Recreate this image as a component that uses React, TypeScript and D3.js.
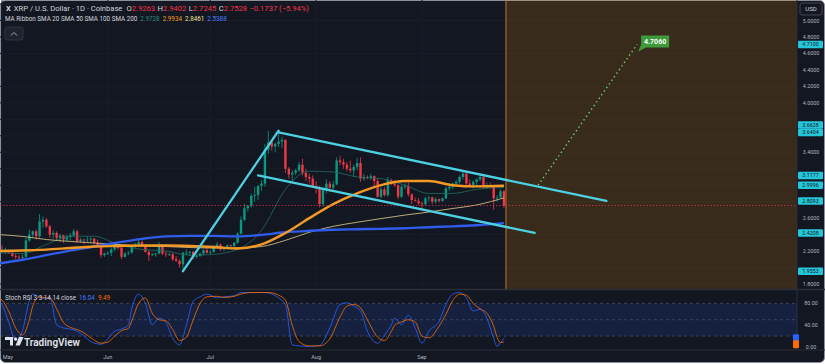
import React from "react";
import * as d3 from "d3";

const W = 825;
const H = 364;

// daily candles, first one on 2025-04-30 : [open, high, low, close]
const firstDay = "2025-04-30";
const ohlc: [number, number, number, number][] = [
  [2.19, 2.24, 2.14, 2.21],
  // May
  [2.21, 2.27, 2.18, 2.2], [2.2, 2.24, 2.17, 2.21], [2.21, 2.22, 2.17, 2.18], [2.18, 2.19, 2.13, 2.14],
  [2.14, 2.17, 2.1, 2.13], [2.13, 2.15, 2.08, 2.12], [2.12, 2.16, 2.09, 2.13], [2.13, 2.36, 2.12, 2.33],
  [2.33, 2.46, 2.31, 2.4], [2.4, 2.45, 2.36, 2.44], [2.44, 2.46, 2.34, 2.38], [2.38, 2.65, 2.36, 2.56],
  [2.56, 2.62, 2.48, 2.58], [2.58, 2.6, 2.48, 2.5], [2.5, 2.52, 2.36, 2.4], [2.4, 2.45, 2.35, 2.42],
  [2.42, 2.44, 2.33, 2.36], [2.36, 2.41, 2.31, 2.39], [2.39, 2.4, 2.3, 2.34], [2.34, 2.4, 2.32, 2.37],
  [2.37, 2.42, 2.33, 2.39], [2.39, 2.47, 2.38, 2.44], [2.44, 2.46, 2.3, 2.32], [2.32, 2.36, 2.3, 2.34],
  [2.34, 2.35, 2.28, 2.33], [2.33, 2.38, 2.31, 2.34], [2.34, 2.37, 2.3, 2.35], [2.35, 2.36, 2.28, 2.3],
  [2.3, 2.34, 2.25, 2.27], [2.27, 2.28, 2.12, 2.15], [2.15, 2.18, 2.13, 2.17],
  // June
  [2.17, 2.2, 2.15, 2.18], [2.18, 2.24, 2.14, 2.22], [2.22, 2.3, 2.2, 2.25], [2.25, 2.28, 2.22, 2.24],
  [2.24, 2.25, 2.1, 2.13], [2.13, 2.19, 2.12, 2.17], [2.17, 2.2, 2.15, 2.18], [2.18, 2.28, 2.17, 2.26],
  [2.26, 2.3, 2.24, 2.28], [2.28, 2.34, 2.27, 2.31], [2.31, 2.33, 2.25, 2.26], [2.26, 2.28, 2.18, 2.19],
  [2.19, 2.21, 2.08, 2.15], [2.15, 2.18, 2.14, 2.16], [2.16, 2.18, 2.13, 2.17], [2.17, 2.31, 2.16, 2.26],
  [2.26, 2.28, 2.15, 2.17], [2.17, 2.2, 2.13, 2.16], [2.16, 2.18, 2.14, 2.16], [2.16, 2.18, 2.08, 2.1],
  [2.1, 2.14, 2.07, 2.08], [2.08, 2.1, 2.0, 2.04], [2.04, 2.19, 1.95, 2.18], [2.18, 2.22, 2.15, 2.18],
  [2.18, 2.2, 2.14, 2.19], [2.19, 2.2, 2.1, 2.13], [2.13, 2.16, 2.11, 2.14], [2.14, 2.18, 2.13, 2.17],
  [2.17, 2.22, 2.15, 2.21], [2.21, 2.24, 2.17, 2.18],
  // July
  [2.18, 2.21, 2.16, 2.19], [2.19, 2.27, 2.18, 2.25], [2.25, 2.31, 2.24, 2.28], [2.28, 2.29, 2.2, 2.22],
  [2.22, 2.24, 2.2, 2.23], [2.23, 2.28, 2.22, 2.27], [2.27, 2.28, 2.24, 2.26], [2.26, 2.31, 2.25, 2.3],
  [2.3, 2.43, 2.29, 2.41], [2.41, 2.62, 2.4, 2.58], [2.58, 2.77, 2.56, 2.72], [2.72, 2.76, 2.68, 2.75],
  [2.75, 2.9, 2.73, 2.87], [2.87, 2.98, 2.8, 2.88], [2.88, 3.0, 2.82, 2.99], [2.99, 3.06, 2.93, 3.02],
  [3.02, 3.5, 2.98, 3.43], [3.43, 3.66, 3.38, 3.52], [3.52, 3.55, 3.42, 3.47], [3.47, 3.52, 3.4, 3.5],
  [3.5, 3.63, 3.46, 3.53], [3.53, 3.59, 3.45, 3.55], [3.55, 3.56, 3.15, 3.2], [3.2, 3.22, 3.08, 3.13],
  [3.13, 3.18, 3.05, 3.15], [3.15, 3.2, 3.12, 3.18], [3.18, 3.28, 3.16, 3.25], [3.25, 3.32, 3.12, 3.15],
  [3.15, 3.2, 3.05, 3.1], [3.1, 3.14, 3.02, 3.08], [3.08, 3.12, 2.97, 2.99],
  // August
  [2.99, 3.05, 2.9, 2.97], [2.97, 2.99, 2.73, 2.77], [2.77, 2.98, 2.74, 2.94], [2.94, 3.07, 2.9, 3.02],
  [3.02, 3.05, 2.92, 2.97], [2.97, 3.05, 2.93, 3.01], [3.01, 3.34, 3.0, 3.3], [3.3, 3.36, 3.24, 3.28],
  [3.28, 3.32, 3.2, 3.25], [3.25, 3.28, 3.17, 3.2], [3.2, 3.3, 3.15, 3.18], [3.18, 3.25, 3.1, 3.22],
  [3.22, 3.33, 3.18, 3.27], [3.27, 3.34, 3.04, 3.08], [3.08, 3.14, 3.05, 3.1], [3.1, 3.12, 3.07, 3.09],
  [3.09, 3.14, 3.06, 3.11], [3.11, 3.12, 2.98, 3.05], [3.05, 3.08, 2.85, 2.86], [2.86, 2.98, 2.84, 2.95],
  [2.95, 2.98, 2.86, 2.88], [2.88, 3.1, 2.86, 3.06], [3.06, 3.08, 3.0, 3.02], [3.02, 3.06, 2.98, 3.0],
  [3.0, 3.01, 2.83, 2.86], [2.86, 3.0, 2.84, 2.98], [2.98, 3.02, 2.95, 2.99], [2.99, 3.03, 2.86, 2.89],
  [2.89, 2.9, 2.77, 2.82], [2.82, 2.85, 2.8, 2.81], [2.81, 2.84, 2.76, 2.78],
  // September
  [2.78, 2.8, 2.7, 2.77], [2.77, 2.86, 2.75, 2.84], [2.84, 2.87, 2.8, 2.85], [2.85, 2.86, 2.77, 2.8],
  [2.8, 2.85, 2.78, 2.83], [2.83, 2.84, 2.79, 2.81], [2.81, 2.85, 2.8, 2.84], [2.84, 2.98, 2.83, 2.96],
  [2.96, 3.02, 2.93, 2.98], [2.98, 3.03, 2.95, 3.02], [3.02, 3.06, 2.98, 3.04], [3.04, 3.12, 3.02, 3.1],
  [3.1, 3.18, 3.07, 3.14], [3.14, 3.16, 3.0, 3.02], [3.02, 3.07, 2.97, 3.0], [3.0, 3.06, 2.96, 3.04],
  [3.04, 3.08, 2.98, 3.07], [3.07, 3.14, 3.05, 3.1], [3.1, 3.11, 2.96, 2.98], [2.98, 3.03, 2.96, 3.0],
  [3.0, 3.03, 2.97, 2.99], [2.99, 3.0, 2.7, 2.84], [2.84, 2.88, 2.8, 2.85], [2.85, 2.95, 2.84, 2.9263],
  [2.9263, 2.9402, 2.7245, 2.7528],
];

// MA ribbon, sampled weekly off the chart
const maDates = [
  "2025-04-30", "2025-05-07", "2025-05-14", "2025-05-21", "2025-05-28", "2025-06-04", "2025-06-11",
  "2025-06-18", "2025-06-25", "2025-07-02", "2025-07-09", "2025-07-16", "2025-07-23", "2025-07-30",
  "2025-08-06", "2025-08-13", "2025-08-20", "2025-08-27", "2025-09-03", "2025-09-10", "2025-09-17",
  "2025-09-25",
];
const sma20 = [2.18, 2.17, 2.28, 2.38, 2.38, 2.28, 2.22, 2.2, 2.15, 2.16, 2.22, 2.45, 2.95, 3.17, 3.16, 3.1, 3.08, 3.0, 2.9, 2.9, 2.95, 2.973];
const sma50 = [2.2, 2.206, 2.218, 2.237, 2.255, 2.262, 2.268, 2.268, 2.262, 2.25, 2.231, 2.28, 2.42, 2.6, 2.77, 2.9, 3.0, 3.05, 3.05, 3.0, 2.985, 2.993];
const sma100 = [2.4, 2.378, 2.34, 2.317, 2.298, 2.28, 2.262, 2.255, 2.243, 2.237, 2.237, 2.255, 2.33, 2.428, 2.5, 2.55, 2.594, 2.637, 2.674, 2.717, 2.76, 2.846];
const sma200 = [2.05, 2.095, 2.15, 2.206, 2.255, 2.305, 2.348, 2.378, 2.385, 2.385, 2.378, 2.397, 2.428, 2.446, 2.458, 2.465, 2.47, 2.477, 2.49, 2.5, 2.514, 2.539];
const maLegend = ["2.9728", "2.9934", "2.8461", "2.5388"];

// stoch RSI samples, index = candle number
const stochIdx = [0, 1, 3, 5, 7, 9, 10, 12, 14, 15, 17, 19, 21, 23, 25, 27, 30, 32, 34, 36, 38, 39, 41, 43, 45, 47, 49, 51, 53, 55, 57, 59, 61, 64, 66, 69, 71, 74, 77, 79, 82, 84, 86, 88, 91, 94, 97, 100, 102, 104, 106, 108, 111, 113, 115, 116, 118, 120, 122, 124, 126, 129, 131, 133, 135, 137, 139, 141, 143, 145, 146, 147, 148];
const stochK = [85, 78, 45, 12, 30, 85, 97, 92, 88, 92, 41, 35, 33, 29, 20, 10, 5, 15, 29, 33, 40, 70, 97, 80, 41, 53, 45, 16, 4, 40, 84, 92, 97, 90, 92, 94, 100, 100, 100, 99, 90, 78, 4, 2, 1, 3, 35, 78, 81, 75, 66, 29, 7, 22, 40, 53, 41, 58, 35, 7, 29, 47, 78, 97, 100, 90, 66, 69, 53, 16, 1, 8, 16.04];
const stochD = [90, 86, 65, 35, 22, 50, 75, 92, 90, 90, 70, 45, 36, 32, 26, 17, 7, 9, 20, 30, 34, 48, 80, 90, 62, 50, 48, 32, 12, 18, 50, 80, 92, 93, 91, 93, 97, 100, 100, 100, 95, 86, 40, 10, 2, 2, 15, 55, 75, 78, 72, 50, 18, 12, 28, 40, 46, 50, 46, 20, 17, 38, 60, 85, 97, 95, 80, 70, 62, 38, 18, 8, 9.49];

// drawings: [date, price] pairs
const poleLine: [string, number][] = [["2025-06-23", 1.9553], ["2025-07-21", 3.6628]];
const upperLine: [string, number][] = [["2025-07-21", 3.6404], ["2025-10-25", 2.8093]];
const lowerLine: [string, number][] = [["2025-07-15", 3.1177], ["2025-10-04", 2.4208]];
const targetLine: [string, number][] = [["2025-10-05", 2.9996], ["2025-11-03", 4.71]];
const targetText = "4.7060";
const boxStart = "2025-09-25T14:00:00Z";
const axisTags = [4.71, 3.6628, 3.6404, 3.1177, 2.9996, 2.8093, 2.4208, 1.9553];

const GREEN = "#089981";
const RED = "#f23645";
const CYAN = "#4dd0e1";
const TXT = "#b2b5be";
const BG = "#131722";

const PANE_R = 797;
const MAIN_B = 289;

export default function App() {
  const start = new Date(firstDay + "T00:00:00Z");
  const dates = ohlc.map((_, i) => d3.utcDay.offset(start, i));

  const x = d3
    .scaleUtc()
    .domain([new Date("2025-05-01T00:00:00Z"), new Date("2025-09-01T00:00:00Z")])
    .range([2, 422]);
  const y = d3.scaleLinear().domain([1.8, 5.0]).range([284, 20.5]);
  const ys = d3.scaleLinear().domain([0, 100]).range([347, 292.5]);

  const maLine = d3
    .line<number>()
    .x((_, i) => x(new Date(maDates[i] + "T00:00:00Z")))
    .y((v) => y(v))
    .curve(d3.curveMonotoneX);

  const stLine = d3
    .line<number>()
    .x((_, i) => x(dates[stochIdx[i]]))
    .y((v) => ys(v))
    .curve(d3.curveMonotoneX);

  const pt = (p: [string, number]) => [x(new Date(p[0] + "T00:00:00Z")), y(p[1])];

  const priceTicks = d3.range(18, 53, 2).map((v) => v / 10);
  const months = d3.utcMonth.range(new Date("2025-05-01T00:00:00Z"), new Date("2025-10-01T00:00:00Z"));
  const fmt = d3.format(".4f");
  const last = ohlc[ohlc.length - 1];
  const boxX = x(new Date(boxStart));

  // axis tags, pushed up when overlapping
  const tagH = 7.5;
  const tags = axisTags
    .map((v) => ({ v, yy: y(v) }))
    .sort((a, b) => b.yy - a.yy);
  for (let i = 1; i < tags.length; i++) {
    if (tags[i].yy > tags[i - 1].yy - tagH) tags[i].yy = tags[i - 1].yy - tagH;
  }
  // plain tick labels hidden behind a tag or the USD box
  const shownTicks = priceTicks.filter(
    (v) => y(v) > 19 && tags.every((t) => Math.abs(t.yy - y(v)) > tagH - 0.5)
  );

  const [tx0, ty0] = pt(targetLine[0]);
  const [tx1, ty1] = pt(targetLine[1]);

  return (
    <svg
      width={W}
      height={H}
      style={{ position: "fixed", left: 0, top: 0, display: "block", background: "#ffffff" }}
      fontFamily="Roboto, 'Noto Sans', sans-serif"
    >
      <defs>
        <clipPath id="main">
          <rect x={0} y={0} width={PANE_R} height={MAIN_B} />
        </clipPath>
        <clipPath id="stoch">
          <rect x={0} y={290} width={PANE_R} height={60} />
        </clipPath>
      </defs>
      <rect x={0.5} y={0.5} width={W - 1} height={H - 2} rx={5} fill={BG} stroke="#8d9099" />

      {/* grid */}
      <g clipPath="url(#main)">
        {priceTicks.map((v) => (
          <line key={v} x1={0} x2={PANE_R} y1={y(v)} y2={y(v)} stroke="#191d28" />
        ))}
        {months.map((m) => (
          <line key={+m} x1={x(m)} x2={x(m)} y1={0} y2={MAIN_B} stroke="#191d28" />
        ))}
        <rect x={boxX} y={0} width={PANE_R - boxX} height={MAIN_B} fill="rgba(255,152,0,0.16)" />
        <line x1={boxX} x2={boxX} y1={0} y2={MAIN_B} stroke="#c07828" strokeWidth={1} />
      </g>

      {/* candles */}
      <g clipPath="url(#main)">
        {ohlc.map(([o, h, l, c], i) => {
          const cx = x(dates[i]);
          const col = c >= o ? GREEN : RED;
          return (
            <g key={i}>
              <line x1={cx} x2={cx} y1={y(h)} y2={y(l)} stroke={col} strokeWidth={0.8} />
              <rect
                x={cx - 1.2}
                width={2.4}
                y={y(Math.max(o, c))}
                height={Math.max(0.8, Math.abs(y(o) - y(c)))}
                fill={col}
              />
            </g>
          );
        })}
        {/* MA ribbon */}
        <path d={maLine(sma20) ?? ""} fill="none" stroke="#1f6f62" strokeWidth={0.8} />
        <path d={maLine(sma100) ?? ""} fill="none" stroke="#e3cf8a" strokeWidth={0.8} />
        <path d={maLine(sma200) ?? ""} fill="none" stroke="#2f5ce8" strokeWidth={2.4} />
        <path d={maLine(sma50) ?? ""} fill="none" stroke="#f39a26" strokeWidth={2.4} />

        {/* close line */}
        <line
          x1={0}
          x2={PANE_R}
          y1={y(last[3])}
          y2={y(last[3])}
          stroke={RED}
          strokeWidth={0.8}
          strokeDasharray="1.2,2"
        />

        {/* drawings */}
        {[poleLine, upperLine, lowerLine].map((ln, i) => {
          const [a, b] = [pt(ln[0]), pt(ln[1])];
          return (
            <line key={i} x1={a[0]} y1={a[1]} x2={b[0]} y2={b[1]} stroke={CYAN} strokeWidth={2.3} strokeLinecap="round" />
          );
        })}
        <line x1={tx0} y1={ty0} x2={tx1} y2={ty1} stroke="#6fcf6f" strokeWidth={1.4} strokeDasharray="1.4,3" />
        <g transform={`translate(${tx1 + 4},${ty1 - 9})`}>
          <path d="M0,0 H28 V12 H5 L-3,16 L0,9 Z" fill="#3e9a3a" />
          <text x={14} y={8.4} textAnchor="middle" fontSize={7} fontWeight={700} fill="#ffffff">
            {targetText}
          </text>
        </g>
      </g>

      {/* header */}
      <text x={6} y={10.5} fontSize={7.6} fill="#d1d4dc">
        <tspan fontWeight={700}>X</tspan>
        <tspan dx={3}>XRP / U.S. Dollar · 1D · Coinbase</tspan>
        <tspan dx={4}>O</tspan>
        <tspan fill={RED}>{fmt(last[0])}</tspan>
        <tspan dx={2.5}>H</tspan>
        <tspan fill={RED}>{fmt(last[1])}</tspan>
        <tspan dx={2.5}>L</tspan>
        <tspan fill={RED}>{fmt(last[2])}</tspan>
        <tspan dx={2.5}>C</tspan>
        <tspan fill={RED}>{fmt(last[3])}</tspan>
        <tspan dx={2.5} fill={RED}>
          {"\u22120.1737 (\u22125.94%)"}
        </tspan>
      </text>
      <text x={5} y={21} fontSize={6.3} fill="#d1d4dc">
        <tspan>MA Ribbon SMA 20 SMA 50 SMA 100 SMA 200</tspan>
        <tspan dx={3} fill="#2a8a78">{maLegend[0]}</tspan>
        <tspan dx={3} fill="#f39a26">{maLegend[1]}</tspan>
        <tspan dx={3} fill="#f2e29c">{maLegend[2]}</tspan>
        <tspan dx={3} fill="#4d7cff">{maLegend[3]}</tspan>
      </text>
      <rect x={5} y={27} width={18} height={13} rx={2} fill="#1e222d" stroke="#2f3340" />
      <path d="M11,35.5 L14,32.5 L17,35.5" fill="none" stroke="#b2b5be" strokeWidth={0.9} />

      {/* price axis */}
      <line x1={PANE_R} x2={PANE_R} y1={0} y2={350} stroke="#2a2e39" />
      {shownTicks.map((v) => (
        <text key={v} x={811} y={y(v) + 2} textAnchor="middle" fontSize={5.3} fill={TXT}>
          {fmt(v)}
        </text>
      ))}
      {tags.map((t) => (
        <g key={t.v}>
          <rect x={798} y={t.yy - tagH / 2} width={25} height={tagH} rx={1} fill="#26c6da" />
          <text x={810.5} y={t.yy + 2} textAnchor="middle" fontSize={5.3} fill="#131722">
            {fmt(t.v)}
          </text>
        </g>
      ))}
      <rect x={800} y={3} width={22} height={12} rx={2} fill={BG} stroke="#434651" />
      <text x={811} y={11.3} textAnchor="middle" fontSize={6} fill="#d1d4dc">
        USD
      </text>

      {/* stoch pane */}
      <line x1={0} x2={W} y1={MAIN_B + 0.5} y2={MAIN_B + 0.5} stroke="#2a2e39" strokeWidth={1.5} />
      <rect x={0} y={ys(80)} width={PANE_R} height={ys(20) - ys(80)} fill="rgba(41,98,255,0.13)" />
      {[80, 50, 20].map((v) => (
        <line
          key={v}
          x1={0}
          x2={PANE_R}
          y1={ys(v)}
          y2={ys(v)}
          stroke="#787b86"
          strokeOpacity={0.7}
          strokeWidth={0.6}
          strokeDasharray="3,3"
        />
      ))}
      <g clipPath="url(#stoch)">
        <path d={stLine(stochK) ?? ""} fill="none" stroke="#2962ff" strokeWidth={0.8} />
        <path d={stLine(stochD) ?? ""} fill="none" stroke="#ff6d00" strokeWidth={0.8} />
      </g>
      <text x={5} y={300} fontSize={6.3} fill="#d1d4dc">
        <tspan>Stoch RSI 3 3 14 14 close</tspan>
        <tspan dx={3} fill="#4d7cff">{stochK[stochK.length - 1].toFixed(2)}</tspan>
        <tspan dx={3} fill="#ff6d00">{stochD[stochD.length - 1].toFixed(2)}</tspan>
      </text>
      {[80, 40, 0].map((v) => (
        <text key={v} x={811} y={ys(v) + 2} textAnchor="middle" fontSize={5.3} fill={TXT}>
          {v.toFixed(2)}
        </text>
      ))}
      <rect x={793} y={ys(stochK[stochK.length - 1]) - 4} width={6} height={7} rx={1} fill="#2962ff" />
      <rect x={793} y={ys(stochD[stochD.length - 1]) - 1.5} width={6} height={8} rx={1} fill="#ff6d00" />

      {/* watermark */}
      <g fill="#e0e3eb">
        <path d="M5,337 H13 V345.5 H10 V340 H5 Z" />
        <circle cx={15.5} cy={339} r={1.7} />
        <path d="M19,337 H23.5 L19.8,345.5 H15.5 Z" />
        <text x={24} y={345.5} fontSize={10} fontWeight={600}>
          TradingView
        </text>
      </g>

      {/* time axis */}
      <line x1={0} x2={W} y1={350} y2={350} stroke="#2a2e39" />
      {months.map((m) => (
        <text key={+m} x={Math.max(x(m), 8)} y={359} textAnchor="middle" fontSize={5.5} fill={TXT}>
          {d3.utcFormat("%b")(m)}
        </text>
      ))}
    </svg>
  );
}
